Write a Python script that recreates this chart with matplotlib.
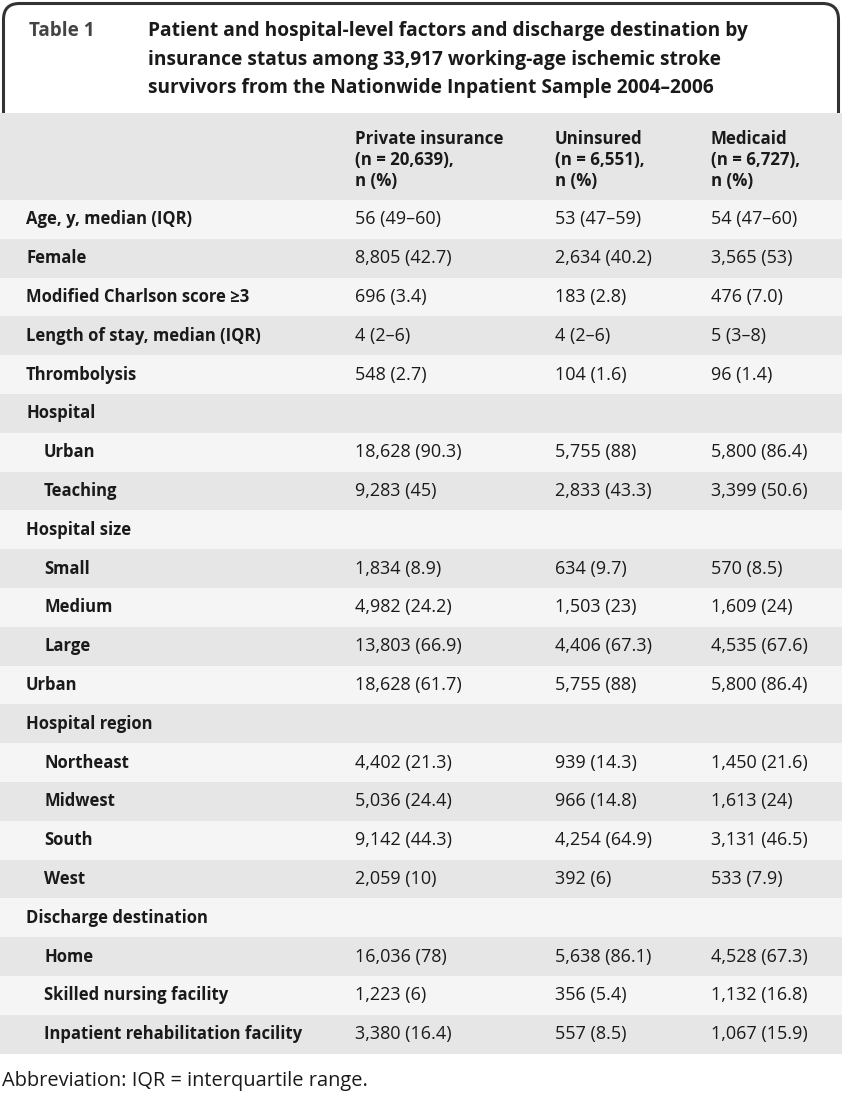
import matplotlib
matplotlib.use("Agg")
import matplotlib.pyplot as plt
from matplotlib.patches import Rectangle, FancyBboxPatch

plt.rcParams['font.family'] = ['Open Sans', 'DejaVu Sans']

# table data
title_lines = ["Patient and hospital-level factors and discharge destination by",
               "insurance status among 33,917 working-age ischemic stroke",
               "survivors from the Nationwide Inpatient Sample 2004\u20132006"]
col_heads = [["Private insurance", "(n = 20,639),", "n (%)"],
             ["Uninsured", "(n = 6,551),", "n (%)"],
             ["Medicaid", "(n = 6,727),", "n (%)"]]
row_labels = ["Age, y, median (IQR)", "Female", "Modified Charlson score \u22653",
              "Length of stay, median (IQR)", "Thrombolysis", "Hospital", "Urban",
              "Teaching", "Hospital size", "Small", "Medium", "Large", "Urban",
              "Hospital region", "Northeast", "Midwest", "South", "West",
              "Discharge destination", "Home", "Skilled nursing facility",
              "Inpatient rehabilitation facility"]
indented = [0, 0, 0, 0, 0, 0, 1, 1, 0, 1, 1, 1, 0, 0, 1, 1, 1, 1, 0, 1, 1, 1]
private = ["56 (49\u201360)", "8,805 (42.7)", "696 (3.4)", "4 (2\u20136)", "548 (2.7)", "",
           "18,628 (90.3)", "9,283 (45)", "", "1,834 (8.9)", "4,982 (24.2)",
           "13,803 (66.9)", "18,628 (61.7)", "", "4,402 (21.3)", "5,036 (24.4)",
           "9,142 (44.3)", "2,059 (10)", "", "16,036 (78)", "1,223 (6)", "3,380 (16.4)"]
uninsured = ["53 (47\u201359)", "2,634 (40.2)", "183 (2.8)", "4 (2\u20136)", "104 (1.6)", "",
             "5,755 (88)", "2,833 (43.3)", "", "634 (9.7)", "1,503 (23)",
             "4,406 (67.3)", "5,755 (88)", "", "939 (14.3)", "966 (14.8)",
             "4,254 (64.9)", "392 (6)", "", "5,638 (86.1)", "356 (5.4)", "557 (8.5)"]
medicaid = ["54 (47\u201360)", "3,565 (53)", "476 (7.0)", "5 (3\u20138)", "96 (1.4)", "",
            "5,800 (86.4)", "3,399 (50.6)", "", "570 (8.5)", "1,609 (24)",
            "4,535 (67.6)", "5,800 (86.4)", "", "1,450 (21.6)", "1,613 (24)",
            "3,131 (46.5)", "533 (7.9)", "", "4,528 (67.3)", "1,132 (16.8)", "1,067 (15.9)"]
footnote = "Abbreviation: IQR = interquartile range."

W, H = 842, 1096
fig = plt.figure(figsize=(W / 100, H / 100), dpi=100)
ax = fig.add_axes([0, 0, 1, 1])
ax.set_xlim(0, W)
ax.set_ylim(H, 0)
ax.axis("off")

gray = "#e6e6e6"
light = "#f5f5f5"
txt = "#1a1a1a"

# title box
box = FancyBboxPatch((3.5, 3.5), 835, 140, boxstyle="round,pad=0,rounding_size=16",
                     fc="white", ec="#333333", lw=2.2)
ax.add_patch(box)
ax.text(29, 31, "Table 1", fontsize=13.6, fontweight="bold", color="#444444", va="center")
for i, line in enumerate(title_lines):
    ax.text(148, 31 + i * 28.5, line, fontsize=13.8, fontweight="bold", color=txt, va="center")

# header band
top = 113
ax.add_patch(Rectangle((0, top), W, 87, fc=gray, ec="none", zorder=3))
col_x = [355, 555, 711]
for cx, head in zip(col_x, col_heads):
    for j, line in enumerate(head):
        ax.text(cx, 139 + j * 21, line, fontsize=12.2, fontweight="bold", color=txt,
                va="center", zorder=4)

# body rows
rh = 38.8
y0 = 200
cols = [private, uninsured, medicaid]
for i, lab in enumerate(row_labels):
    y = y0 + i * rh
    ax.add_patch(Rectangle((0, y), W, rh, fc=light if i % 2 == 0 else gray, ec="none", zorder=3))
    yc = y + rh / 2
    ax.text(44 if indented[i] else 26, yc, lab, fontsize=12, fontweight="bold",
            color=txt, va="center", zorder=4)
    for cx, col in zip(col_x, cols):
        ax.text(cx, yc, col[i], fontsize=13, color=txt, va="center", zorder=4)

ax.text(2, 1081, footnote, fontsize=14.4, color=txt, va="center")

fig.savefig("out.png", dpi=100)
